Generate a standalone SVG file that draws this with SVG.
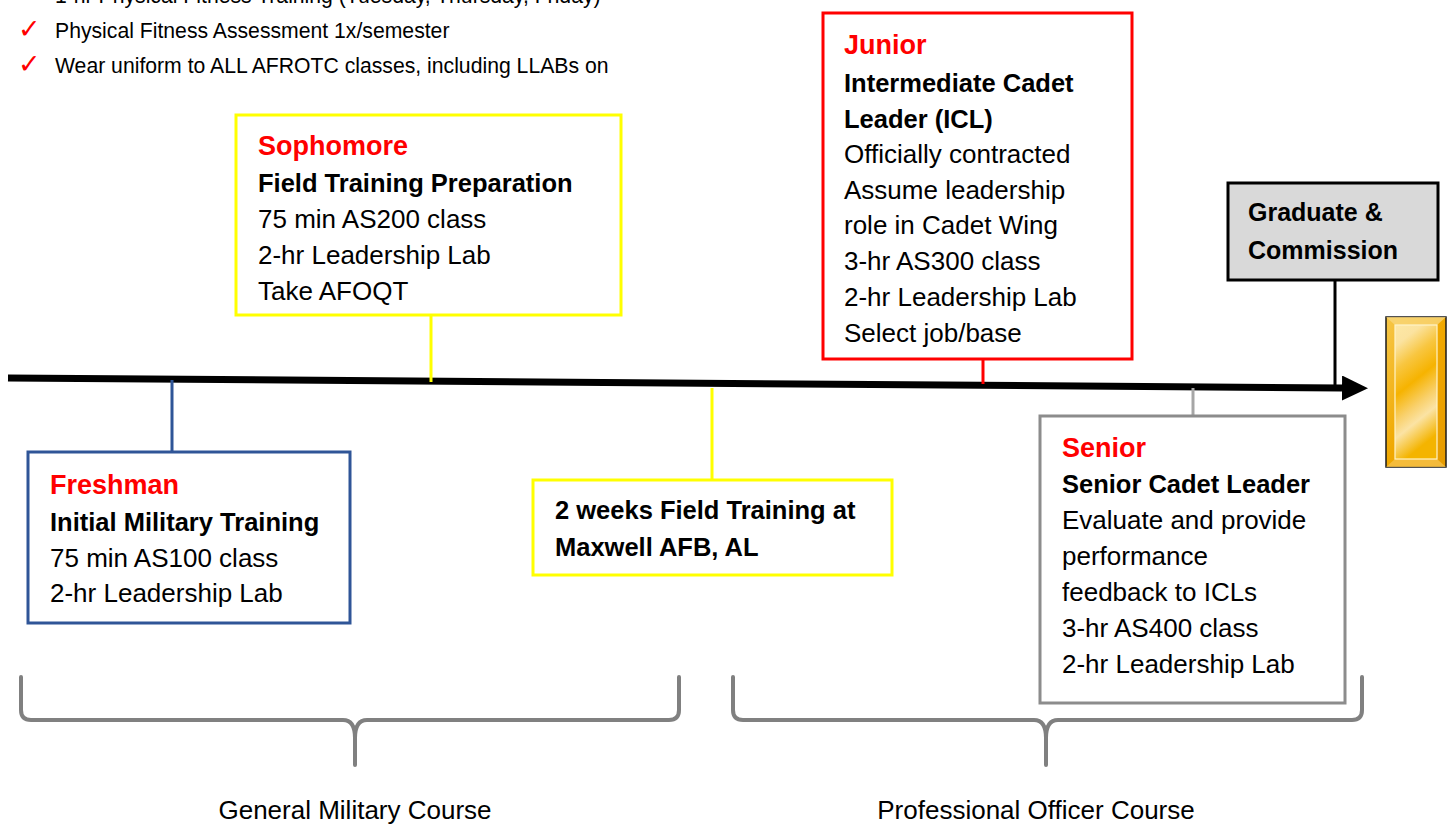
<svg xmlns="http://www.w3.org/2000/svg" width="1453" height="825" viewBox="0 0 1453 825">
<defs>
<style>
.t{font-family:"Liberation Sans",Arial,sans-serif;font-size:26px;fill:#000}
.b{font-weight:bold;font-size:25.5px}
.h{font-family:"Liberation Sans",Arial,sans-serif;font-weight:bold;font-size:27px;fill:#ff0000}
.top{font-family:"Liberation Sans",Arial,sans-serif;font-size:21.2px;fill:#000}
.chk{font-family:"DejaVu Sans",sans-serif;font-size:27px;fill:#ff0000;font-weight:bold}
.box{fill:#fff;stroke-width:3}
.conn{stroke-width:3;fill:none}
.brace{fill:none;stroke:#808080;stroke-width:4;stroke-linecap:round;stroke-linejoin:round}
</style>
<marker id="arr" markerUnits="userSpaceOnUse" markerWidth="28" markerHeight="26" refX="0" refY="12.5" orient="auto">
<path d="M0,0 L26,12.5 L0,25 Z" fill="#000"/>
</marker>
<linearGradient id="gold" x1="0" y1="0" x2="0.25" y2="1">
<stop offset="0" stop-color="#fde8a6"/>
<stop offset="0.15" stop-color="#fbe3a0"/>
<stop offset="0.32" stop-color="#f8c640"/>
<stop offset="0.5" stop-color="#f6b300"/>
<stop offset="0.68" stop-color="#f9d06a"/>
<stop offset="0.8" stop-color="#fbe3a4"/>
<stop offset="1" stop-color="#f4b400"/>
</linearGradient>
<linearGradient id="bevel" x1="0" y1="0" x2="1" y2="1">
<stop offset="0" stop-color="#f7c84a"/>
<stop offset="0.5" stop-color="#f0a800"/>
<stop offset="1" stop-color="#e59a00"/>
</linearGradient>
</defs>
<rect width="1453" height="825" fill="#fff"/>

<g id="requirements">
<text class="chk" x="18" y="-1">✓</text>
<text class="top" x="55" y="3">1-hr Physical Fitness Training (Tuesday, Thursday, Friday)</text>
<text class="chk" x="18" y="38">✓</text>
<text class="top" x="55" y="38">Physical Fitness Assessment 1x/semester</text>
<text class="chk" x="18" y="73">✓</text>
<text class="top" x="55" y="73">Wear uniform to ALL AFROTC classes, including LLABs on</text>
</g>

<g id="connectors">
<line x1="8" y1="378" x2="1342" y2="388" stroke="#000" stroke-width="7" marker-end="url(#arr)"/>
<line class="conn" x1="172" y1="380" x2="172" y2="452" stroke="#2f5597"/>
<line class="conn" x1="431" y1="315" x2="431" y2="382" stroke="#ffff00"/>
<line class="conn" x1="712" y1="388" x2="712" y2="480" stroke="#ffff00"/>
<line class="conn" x1="983" y1="359" x2="983" y2="384" stroke="#ff0000"/>
<line class="conn" x1="1193" y1="388" x2="1193" y2="416" stroke="#a6a6a6"/>
<line class="conn" x1="1335" y1="281" x2="1335" y2="387" stroke="#000"/>
</g>

<g id="freshman">
<rect class="box" x="28" y="452" width="322" height="171" stroke="#2f5597"/>
<text class="h" x="50" y="494">Freshman</text>
<text class="t b" x="50" y="531">Initial Military Training</text>
<text class="t" x="50" y="567">75 min AS100 class</text>
<text class="t" x="50" y="602">2-hr Leadership Lab</text>
</g>

<g id="sophomore">
<rect class="box" x="236" y="115" width="385" height="200" stroke="#ffff00"/>
<text class="h" x="258" y="155">Sophomore</text>
<text class="t b" x="258" y="192">Field Training Preparation</text>
<text class="t" x="258" y="228">75 min AS200 class</text>
<text class="t" x="258" y="264">2-hr Leadership Lab</text>
<text class="t" x="258" y="300">Take AFOQT</text>
</g>

<g id="field-training">
<rect class="box" x="533" y="480" width="359" height="95" stroke="#ffff00"/>
<text class="t b" x="555" y="519">2 weeks Field Training at</text>
<text class="t b" x="555" y="556">Maxwell AFB, AL</text>
</g>

<g id="junior">
<rect class="box" x="823" y="13" width="309" height="346" stroke="#ff0000"/>
<text class="h" x="844" y="54">Junior</text>
<text class="t b" x="844" y="92">Intermediate Cadet</text>
<text class="t b" x="844" y="128">Leader (ICL)</text>
<text class="t" x="844" y="163">Officially contracted</text>
<text class="t" x="844" y="199">Assume leadership</text>
<text class="t" x="844" y="234">role in Cadet Wing</text>
<text class="t" x="844" y="270">3-hr AS300 class</text>
<text class="t" x="844" y="306">2-hr Leadership Lab</text>
<text class="t" x="844" y="342">Select job/base</text>
</g>

<g id="senior">
<rect class="box" x="1040" y="416" width="305" height="287" stroke="#8c8c8c"/>
<text class="h" x="1062" y="457">Senior</text>
<text class="t b" x="1062" y="493">Senior Cadet Leader</text>
<text class="t" x="1062" y="529">Evaluate and provide</text>
<text class="t" x="1062" y="565">performance</text>
<text class="t" x="1062" y="601">feedback to ICLs</text>
<text class="t" x="1062" y="637">3-hr AS400 class</text>
<text class="t" x="1062" y="673">2-hr Leadership Lab</text>
</g>

<g id="graduate">
<rect x="1228" y="183" width="210" height="97" fill="#d9d9d9" stroke="#000" stroke-width="3"/>
<text class="t b" x="1248" y="221" style="font-size:25px">Graduate &amp;</text>
<text class="t b" x="1248" y="259" style="font-size:25px">Commission</text>
</g>

<g id="gold-bar">
<rect x="1386" y="317" width="60" height="150" fill="url(#bevel)" stroke="#1a1a1a" stroke-width="1.5"/>
<path d="M1386,317 L1395,325 L1437,325 L1446,317 Z" fill="#f9d77a" opacity="0.8"/>
<path d="M1386,467 L1395,459 L1437,459 L1446,467 Z" fill="#f6c24a" opacity="0.8"/>
<rect x="1395" y="325" width="42" height="134" fill="url(#gold)" stroke="#fff3c8" stroke-width="1.2"/>
</g>

<g id="gmc">
<path class="brace" d="M21,677 V710 Q21,720 31,720 H343 Q355,720 355,738 V765 M355,738 Q355,720 367,720 H669 Q679,720 679,710 V677"/>
<text class="t" x="355" y="819" text-anchor="middle">General Military Course</text>
</g>

<g id="poc">
<path class="brace" d="M733,677 V710 Q733,720 743,720 H1034 Q1046,720 1046,738 V765 M1046,738 Q1046,720 1058,720 H1352 Q1362,720 1362,710 V677"/>
<text class="t" x="1036" y="819" text-anchor="middle">Professional Officer Course</text>
</g>
</svg>
